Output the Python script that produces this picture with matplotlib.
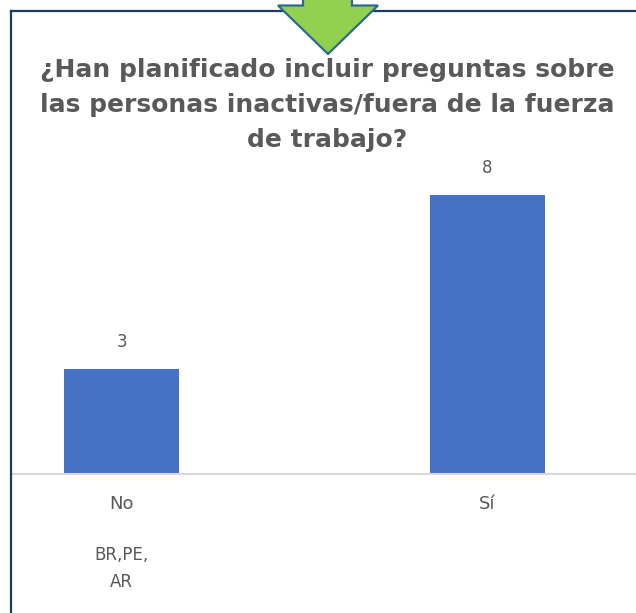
import matplotlib
matplotlib.use("Agg")
import matplotlib.pyplot as plt
from matplotlib.patches import Polygon
from matplotlib.lines import Line2D

categories = ["No", "Sí"]
values = [3, 8]
notes = ["BR,PE,\nAR", ""]
title_lines = ["¿Han planificado incluir preguntas sobre",
               "las personas inactivas/fuera de la fuerza",
               "de trabajo?"]

W, H = 636, 613
fig = plt.figure(figsize=(W / 100, H / 100), dpi=100)
fig.patch.set_facecolor("white")

def fx(px):
    return px / W

def fy(py):
    return 1 - py / H

TXT = "#595959"
FONT = "DejaVu Sans"

ax = fig.add_axes([fx(11), fy(474), fx(636) - fx(11), fy(150) - fy(474)])
ax.set_xlim(-0.302, 1.406)
ax.set_ylim(0, (474 - 150) / 34.85)
ax.bar(range(len(values)), values, width=0.314, color="#4472C4")
for i, v in enumerate(values):
    ax.annotate(str(v), (i, v), xytext=(0, 16), textcoords="offset points",
                ha="center", va="baseline", fontsize=12, color=TXT, family=FONT)
ax.set_xticks(range(len(categories)))
ax.set_xticklabels(categories, fontsize=13, color=TXT, family=FONT)
ax.tick_params(axis="x", length=0, pad=15)
ax.set_yticks([])
for s in ["left", "right", "top"]:
    ax.spines[s].set_visible(False)
ax.spines["bottom"].set_color("#D9D9D9")
ax.spines["bottom"].set_linewidth(1.5)
for i, n in enumerate(notes):
    if n:
        for j, line in enumerate(n.split("\n")):
            ax.annotate(line, (i, 0), xytext=(0, -(560 - 474 + 27 * j) * 0.72),
                        textcoords="offset points", ha="center", va="baseline",
                        fontsize=12, color=TXT, family=FONT)

# title lines, width fitted to reference
baselines = [77, 112, 147]
fs = 19
t = fig.text(fx(327), fy(baselines[0]), title_lines[0], ha="center", va="baseline",
             fontsize=fs, fontweight="bold", color=TXT, family=FONT)
fig.canvas.draw()
w = t.get_window_extent().width
fs = fs * 573 / w
t.set_fontsize(fs)
for line, b in zip(title_lines[1:], baselines[1:]):
    fig.text(fx(327), fy(b), line, ha="center", va="baseline", fontsize=fs,
             fontweight="bold", color=TXT, family=FONT)

# border lines
fig.add_artist(Line2D([fx(11), fx(11)], [fy(11), fy(H + 2)], color="#1F3864", lw=1.6, zorder=5))
fig.add_artist(Line2D([fx(11), fx(W + 2)], [fy(11), fy(11)], color="#1F3864", lw=1.6, zorder=5))

# green arrow (on top of the border)
pts = [(303, -2), (352, -2), (352, 5.5), (378, 5.5), (328, 54), (278, 5.5), (303, 5.5)]
fig.add_artist(Polygon([(fx(x), fy(y)) for x, y in pts], closed=True,
                       facecolor="#92D050", edgecolor="#2E6B8A", lw=1.6,
                       transform=fig.transFigure, zorder=10))

fig.savefig("out.png", dpi=100, facecolor="white")
